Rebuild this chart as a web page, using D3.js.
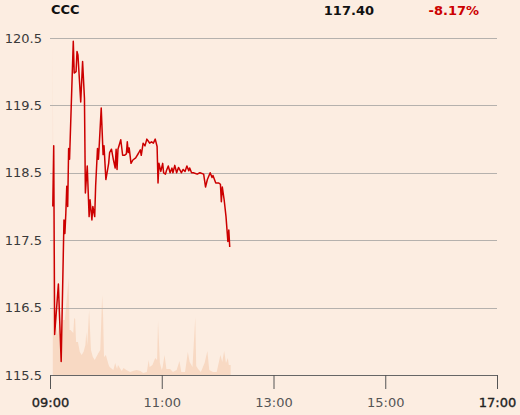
<!DOCTYPE html>
<html>
<head>
<meta charset="utf-8">
<script src="https://cdn.jsdelivr.net/npm/d3@7"></script>
<style>
  html, body { margin: 0; padding: 0; background: #fcede1; }
  svg { display: block; }
</style>
</head>
<body>
<svg id="chart" width="520" height="415"></svg>
<script>
const ticker = "CCC";
const lastPrice = "117.40";
const changePct = "-8.17%";

const priceTimes = ["09:03","09:04","09:05","09:09","09:12","09:15","09:16","09:17","09:18","09:19","09:20","09:21",
  "09:25","09:26","09:28","09:29","09:30","09:33","09:35","09:37","09:38","09:40","09:42","09:43","09:45","09:46","09:48",
  "09:49","09:51","09:52","09:53","09:55","09:57","09:58","10:00","10:03","10:04","10:06","10:08","10:10","10:11","10:12",
  "10:13","10:16","10:18","10:20","10:22","10:23","10:24","10:25","10:27","10:29","10:32","10:35","10:37","10:38","10:40",
  "10:42","10:44","10:46","10:47","10:49","10:51","10:53","10:55","10:56","10:57","10:59","11:01","11:02","11:04","11:05",
  "11:07","11:09","11:11","11:12","11:14","11:16","11:18","11:20","11:21","11:23","11:25","11:27","11:29","11:30","11:32",
  "11:34","11:38","11:41","11:45","11:47","11:49","11:52","11:54","11:55","11:58","12:01","12:03","12:04","12:05","12:07",
  "12:09","12:11","12:12","12:13"];
const prices = [118.00,118.90,116.10,116.85,115.70,117.80,117.60,117.90,118.30,118.00,118.86,118.70,
  120.45,119.98,120.00,120.30,120.25,119.55,120.15,119.60,118.20,118.60,117.85,118.10,117.80,118.00,117.85,
  118.30,118.86,118.70,118.94,119.46,118.77,118.90,118.40,118.64,118.80,118.85,118.70,118.57,118.85,118.55,
  118.85,118.99,118.76,118.76,118.78,118.96,118.80,118.87,118.64,118.69,118.72,118.79,118.84,118.76,118.94,
  118.90,119.00,118.96,118.94,118.96,118.94,119.00,118.89,118.35,118.64,118.52,118.64,118.50,118.48,118.53,
  118.60,118.50,118.57,118.50,118.61,118.50,118.58,118.53,118.50,118.55,118.52,118.60,118.53,118.57,118.50,
  118.50,118.48,118.50,118.48,118.29,118.40,118.50,118.43,118.46,118.35,118.35,118.33,118.07,118.29,118.10,
  117.85,117.48,117.65,117.40];

const volTimes = ["09:03","09:04","09:05","09:06","09:07","09:08","09:09","09:10","09:11","09:12","09:13","09:14","09:16",
  "09:20","09:21","09:22","09:25","09:26","09:27","09:28","09:30","09:32","09:34","09:36","09:38","09:39","09:40","09:42",
  "09:44","09:46","09:48","09:52","09:54","09:56","09:57","09:58","10:00","10:03","10:04","10:08","10:10","10:12","10:13",
  "10:17","10:19","10:22","10:26","10:29","10:33","10:37","10:40","10:44","10:46","10:47","10:50","10:53","10:55","10:56",
  "10:58","11:00","11:01","11:03","11:05","11:09","11:12","11:16","11:19","11:21","11:25","11:28","11:30","11:33","11:36",
  "11:37","11:39","11:42","11:46","11:49","11:51","11:55","11:59","12:03","12:05","12:07","12:09","12:11","12:12","12:14"];
const volumes = [333,40,45,38,50,40,45,55,40,52,45,55,55,
  97,45,45,42,57,56,33,33,23,20,23,30,43,30,65,
  25,18,15,22,25,80,60,18,20,10,8,5,12,6,10,
  4,7,5,3,4,5,4,2,3,15,8,10,17,15,54,
  12,5,8,20,6,6,3,5,14,3,3,23,13,8,58,
  9,6,3,12,24,5,3,3,20,13,24,12,17,10,10];

const yTicks = [115.5,116.5,117.5,118.5,119.5,120.5];
const xTickLabels = ["09:00","11:00","13:00","15:00","17:00"];

const parse = d3.timeParse("%H:%M");
const svg = d3.select("#chart");
const mLeft = 50, mRight = 497, mTop = 38, mBottom = 375;

const x = d3.scaleTime().domain([parse("09:00"), parse("17:00")]).range([mLeft, mRight]);
const y = d3.scaleLinear().domain([115.5, 120.5]).range([mBottom, mTop]);
const vy = d3.scaleLinear().domain([0, d3.max(volumes)]).range([mBottom, 42]);

const priceData = priceTimes.map((t, i) => ({t: parse(t), v: prices[i]}));
const volData = volTimes.map((t, i) => ({t: parse(t), v: volumes[i]}));

// volume area
svg.append("path")
  .datum(volData)
  .attr("fill", "#f8d9c3")
  .attr("d", d3.area().x(d => x(d.t)).y0(mBottom).y1(d => vy(d.v)));

// gridlines
svg.append("g").selectAll("line")
  .data(yTicks.filter(d => d !== 115.5))
  .join("line")
  .attr("x1", mLeft).attr("x2", mRight)
  .attr("y1", d => Math.round(y(d)) + 0.5).attr("y2", d => Math.round(y(d)) + 0.5)
  .attr("stroke", "#b5b1ad").attr("stroke-width", 1);

// y labels
svg.append("g").selectAll("text")
  .data(yTicks)
  .join("text")
  .attr("x", 42).attr("y", d => y(d))
  .attr("dy", "0.35em")
  .attr("text-anchor", "end")
  .attr("font-family", "DejaVu Sans")
  .attr("font-size", 13)
  .attr("fill", "#3a3a3a")
  .text(d => d.toFixed(1));

// x axis
const isEnd = i => i === 0 || i === xTickLabels.length - 1;
const xAxis = d3.axisBottom(x)
  .tickValues(xTickLabels.map(parse))
  .tickFormat(d3.timeFormat("%H:%M"))
  .tickSize(14)
  .tickPadding(9);
const gx = svg.append("g").attr("transform", `translate(0,${mBottom})`).call(xAxis);
gx.select(".domain").attr("stroke", "#666").attr("d", `M${mLeft + 0.5},0.5H${mRight + 0.5}`);
gx.selectAll(".tick line").attr("stroke", "#555");
gx.selectAll(".tick text")
  .attr("font-family", "DejaVu Sans")
  .attr("font-size", 13)
  .attr("stroke", (d, i) => isEnd(i) ? "#222" : "none")
  .attr("stroke-width", 0.35)
  .attr("fill", (d, i) => isEnd(i) ? "#222" : "#555");

// price line
svg.append("path")
  .datum(priceData)
  .attr("fill", "none")
  .attr("stroke", "#cc0000")
  .attr("stroke-width", 1.5)
  .attr("stroke-linejoin", "round")
  .attr("d", d3.line().x(d => x(d.t)).y(d => y(d.v)));

// header
svg.append("text").attr("x", 51).attr("y", 14)
  .attr("font-family", "DejaVu Sans").attr("font-weight", "bold").attr("font-size", 13)
  .attr("fill", "#111").text(ticker);
svg.append("text").attr("x", 374).attr("y", 15).attr("text-anchor", "end")
  .attr("font-family", "DejaVu Sans").attr("font-weight", "bold").attr("font-size", 13)
  .attr("fill", "#111").text(lastPrice);
svg.append("text").attr("x", 479).attr("y", 15).attr("text-anchor", "end")
  .attr("font-family", "DejaVu Sans").attr("font-weight", "bold").attr("font-size", 13)
  .attr("fill", "#cc0000").text(changePct);
</script>
</body>
</html>
